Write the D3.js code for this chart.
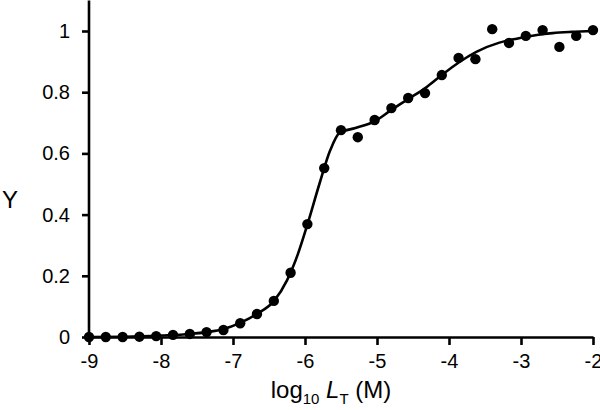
<!DOCTYPE html>
<html>
<head>
<meta charset="utf-8">
<script src="https://cdn.jsdelivr.net/npm/d3@7"></script>
<style>
  body { margin: 0; background: #fff; }
  svg { display: block; font-family: "Liberation Sans", Arial, sans-serif; }
</style>
</head>
<body>
<svg width="600" height="410"></svg>
<script>
// measured points: log10 LT and fractional saturation Y
var logLT = [-9, -8.767, -8.533, -8.3, -8.067, -7.833, -7.6, -7.367, -7.133, -6.9,
  -6.667, -6.433, -6.2, -5.967, -5.733, -5.5, -5.267, -5.033, -4.8, -4.567,
  -4.333, -4.1, -3.867, -3.633, -3.4, -3.167, -2.933, -2.7, -2.467, -2.233, -2]
var yObs = [0, 0, 0, 0.001, 0.003, 0.007, 0.01, 0.016, 0.023, 0.045,
  0.075, 0.118, 0.21, 0.369, 0.552, 0.676, 0.653, 0.709, 0.748, 0.781,
  0.797, 0.856, 0.912, 0.908, 1.006, 0.961, 0.984, 1.003, 0.948, 0.984, 1.003]

// fitted curve
var fitX = [-9, -8.5, -8, -7.6, -7.36, -7.13, -6.9, -6.67, -6.43, -6.25, -6.1, -5.97,
  -5.8, -5.65, -5.52, -5.3, -5.03, -4.8, -4.57, -4.32, -4.1, -3.86, -3.62, -3.3,
  -3.06, -2.78, -2.56, -2.3, -2]
var fitY = [0, 0.001, 0.005, 0.01, 0.016, 0.026, 0.046, 0.075, 0.118, 0.185, 0.27, 0.365,
  0.5, 0.61, 0.667, 0.683, 0.705, 0.742, 0.777, 0.815, 0.856, 0.898, 0.932, 0.962,
  0.975, 0.987, 0.993, 0.997, 1.0]

var xTicks = [-9, -8, -7, -6, -5, -4, -3, -2]
var yTicks = [0, 0.2, 0.4, 0.6, 0.8, 1]

var svg = d3.select('svg')

var x = d3.scaleLinear().domain([-9, -2]).range([89, 593])
var y = d3.scaleLinear().domain([0, 1]).range([337, 31])

// plain hyphen for negatives, like the original
var xAxis = svg.append('g')
    .attr('transform', 'translate(0,337)')
    .call(d3.axisBottom(x).tickValues(xTicks).tickSize(8).tickSizeOuter(0).tickPadding(9)
      .tickFormat(function (d) { return String(d) }))
var yAxis = svg.append('g')
    .attr('transform', 'translate(89,0)')
    .call(d3.axisLeft(y).tickValues(yTicks).tickSize(7).tickSizeOuter(0).tickPadding(12)
      .tickFormat(function (d) { return d === 0 || d === 1 ? d : d.toFixed(1) }))

// extend the y axis up to the top edge
yAxis.select('.domain').attr('d', 'M0,' + y(0) + 'V' + y(1.1))

svg.selectAll('.domain, .tick line')
    .attr('stroke', '#000')
    .attr('stroke-width', 2.6)
svg.selectAll('.tick text')
    .attr('fill', '#000')
    .style('font-size', '20px')
    .style('font-family', '"Liberation Sans", Arial, sans-serif')
xAxis.selectAll('.tick text').attr('dy', '0.71em')

var fit = fitX.map(function (d, i) { return [d, fitY[i]] })
var line = d3.line()
    .x(function (d) { return x(d[0]) })
    .y(function (d) { return y(d[1]) })
    .curve(d3.curveMonotoneX)

svg.append('path')
    .datum(fit)
    .attr('d', line)
    .attr('fill', 'none')
    .attr('stroke', '#000')
    .attr('stroke-width', 2.6)

svg.selectAll('circle.pt')
    .data(logLT)
    .enter()
    .append('circle')
    .attr('class', 'pt')
    .attr('cx', function (d) { return x(d) })
    .attr('cy', function (d, i) { return y(yObs[i]) })
    .attr('r', 5.2)
    .attr('fill', '#000')

// axis titles
var xt = svg.append('text')
    .attr('x', 331)
    .attr('y', 398)
    .attr('text-anchor', 'middle')
    .style('font-size', '24px')
xt.append('tspan').text('log')
xt.append('tspan').attr('dy', 6).style('font-size', '15px').text('10')
xt.append('tspan').attr('dy', -6).text(' ')
xt.append('tspan').style('font-style', 'italic').text('L')
xt.append('tspan').attr('dy', 6).style('font-size', '15px').text('T')
xt.append('tspan').attr('dy', -6).text(' (M)')

svg.append('text')
    .attr('x', 10)
    .attr('y', 208)
    .attr('text-anchor', 'middle')
    .style('font-size', '24px')
    .text('Y')
</script>
</body>
</html>
